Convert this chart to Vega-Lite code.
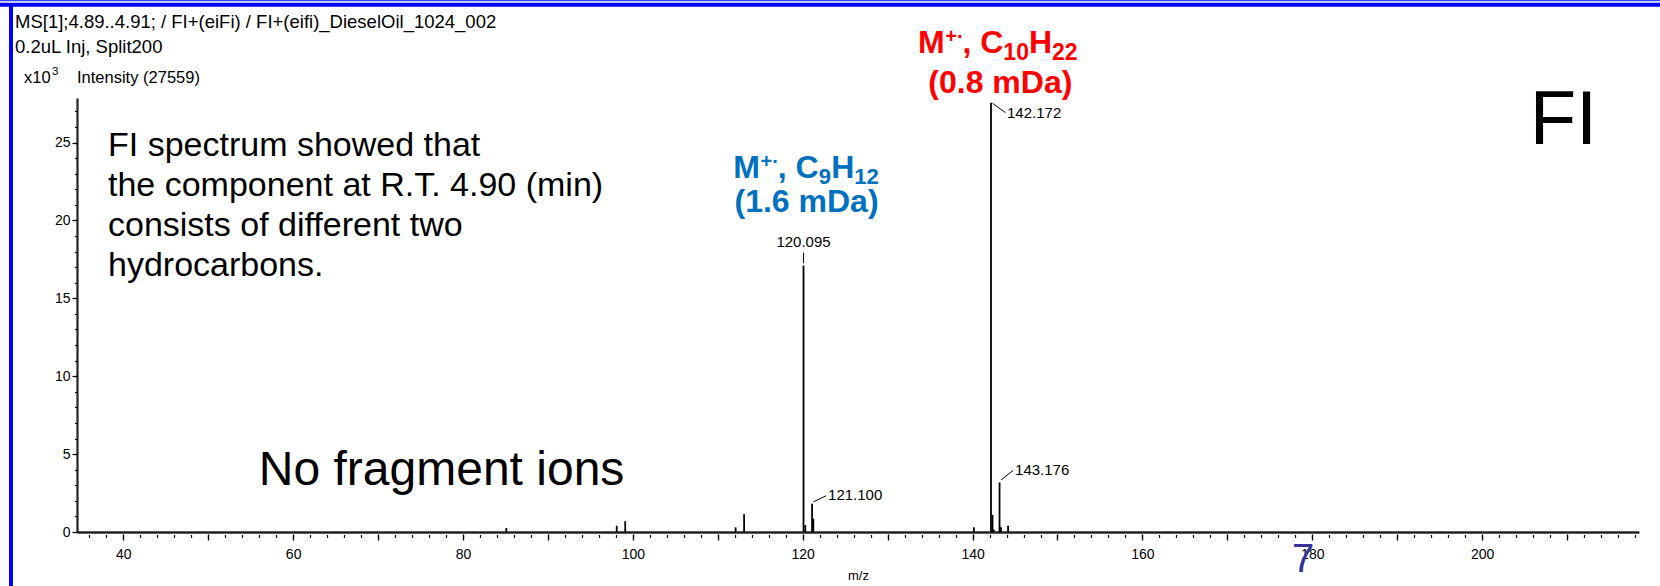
{
  "$schema": "https://vega.github.io/schema/vega-lite/v6.json",
  "width": 1562,
  "height": 434,
  "autosize": {"type": "none"},
  "padding": {"left": 77, "top": 98, "right": 21, "bottom": 54},
  "background": "#ffffff",
  "config": {"font": "Liberation Sans", "view": {"stroke": null}},
  "datasets": {
    "peaks": [
      {"mz": 85.1, "intensity": 0.25},
      {"mz": 98.1, "intensity": 0.4},
      {"mz": 99.1, "intensity": 0.7},
      {"mz": 112.1, "intensity": 0.3},
      {"mz": 113.1, "intensity": 1.15},
      {"mz": 120.095, "intensity": 17.1, "label": "120.095"},
      {"mz": 120.3, "intensity": 0.45},
      {"mz": 121.1, "intensity": 1.81, "label": "121.100"},
      {"mz": 121.25, "intensity": 0.85},
      {"mz": 140.16, "intensity": 0.3},
      {"mz": 142.172, "intensity": 27.559, "label": "142.172"},
      {"mz": 142.35, "intensity": 1.1},
      {"mz": 142.5, "intensity": 0.15},
      {"mz": 143.176, "intensity": 3.18, "label": "143.176"},
      {"mz": 143.35, "intensity": 0.3},
      {"mz": 144.18, "intensity": 0.4}
    ]
  },
  "resolve": {"axis": {"x": "independent", "y": "independent"}},
  "layer": [
    {
      "data": {"name": "peaks"},
      "mark": {"type": "rule", "color": "#000000", "strokeWidth": 1.8},
      "encoding": {
        "x": {"field": "mz", "type": "quantitative", "scale": {"domain": [34.55, 218.47], "nice": false, "zero": false},
          "axis": {"orient": "bottom", "values": [40, 60, 80, 100, 120, 140, 160, 180, 200], "ticks": false, "labels": false, "domain": true, "domainColor": "#222222", "domainWidth": 2.4, "grid": false, "title": null}},
        "y": {"field": "intensity", "type": "quantitative", "scale": {"domain": [0, 27.86], "nice": false, "zero": false},
          "axis": {"orient": "left", "values": [0, 5, 10, 15, 20, 25], "ticks": true, "tickSize": 5, "tickColor": "#000000", "tickWidth": 1.2, "domain": true, "domainColor": "#222222", "domainWidth": 2.2, "labels": true, "labelFont": "Liberation Sans", "labelFontSize": 14, "labelColor": "#000000", "labelPadding": 2, "grid": false, "title": null}},
        "y2": {"datum": 0}
      }
    },
    {
      "data": {"name": "peaks"},
      "mark": {"type": "rule", "opacity": 0},
      "encoding": {
        "x": {"field": "mz", "type": "quantitative", "scale": {"domain": [34.55, 218.47], "nice": false, "zero": false},
          "axis": {"orient": "bottom", "offset": 2, "values": [40, 50, 60, 70, 80, 90, 100, 110, 120, 130, 140, 150, 160, 170, 180, 190, 200, 210], "ticks": true, "tickSize": 6, "tickColor": "#000000", "tickWidth": 1.3, "domain": false, "labels": true, "labelExpr": "datum.value % 20 === 0 ? datum.label : ''", "labelFont": "Liberation Sans", "labelFontSize": 14, "labelColor": "#000000", "labelPadding": 7, "grid": false, "title": "m/z", "titleFont": "Liberation Sans", "titleFontSize": 13, "titleFontWeight": "normal", "titleColor": "#000000", "titleBaseline": "middle", "titleY": 41}},
        "y": {"field": "intensity", "type": "quantitative", "scale": {"domain": [0, 27.86], "nice": false, "zero": false},
          "axis": {"orient": "left", "values": [0, 1, 2, 3, 4, 5, 6, 7, 8, 9, 10, 11, 12, 13, 14, 15, 16, 17, 18, 19, 20, 21, 22, 23, 24, 25, 26, 27], "ticks": true, "tickSize": 2.5, "tickColor": "#000000", "tickWidth": 1.2, "domain": false, "labels": false, "grid": false, "title": null}}
      }
    },
    {
      "data": {"name": "peaks"},
      "mark": {"type": "rule", "opacity": 0},
      "encoding": {
        "x": {"field": "mz", "type": "quantitative", "scale": {"domain": [34.55, 218.47], "nice": false, "zero": false},
          "axis": {"orient": "bottom", "offset": 2.5, "values": [36,38,40,42,44,46,48,50,52,54,56,58,60,62,64,66,68,70,72,74,76,78,80,82,84,86,88,90,92,94,96,98,100,102,104,106,108,110,112,114,116,118,120,122,124,126,128,130,132,134,136,138,140,142,144,146,148,150,152,154,156,158,160,162,164,166,168,170,172,174,176,178,180,182,184,186,188,190,192,194,196,198,200,202,204,206,208,210,212,214,216,218], "ticks": true, "tickSize": 3, "tickColor": "#000000", "tickWidth": 1.2, "domain": false, "labels": false, "grid": false, "title": null}},
        "y": {"field": "intensity", "type": "quantitative", "scale": {"domain": [0, 27.86], "nice": false, "zero": false}, "axis": null}
      }
    },
    {
      "data": {"name": "peaks"},
      "transform": [{"filter": "datum.label === '120.095'"}],
      "mark": {"type": "rule", "color": "#000000", "strokeWidth": 1, "yOffset": -2.3, "y2Offset": -12.9},
      "encoding": {
        "x": {"field": "mz", "type": "quantitative", "scale": {"domain": [34.55, 218.47], "nice": false, "zero": false}, "axis": null},
        "x2": {"field": "mz"},
        "y": {"field": "intensity", "type": "quantitative", "scale": {"domain": [0, 27.86], "nice": false, "zero": false}, "axis": null},
        "y2": {"field": "intensity"}
      }
    },
    {
      "data": {"name": "peaks"},
      "transform": [{"filter": "datum.label === '142.172'"}],
      "mark": {"type": "rule", "color": "#000000", "strokeWidth": 1, "xOffset": 1.5, "x2Offset": 14.5, "yOffset": 0.6, "y2Offset": 10},
      "encoding": {
        "x": {"field": "mz", "type": "quantitative", "scale": {"domain": [34.55, 218.47], "nice": false, "zero": false}, "axis": null},
        "x2": {"field": "mz"},
        "y": {"field": "intensity", "type": "quantitative", "scale": {"domain": [0, 27.86], "nice": false, "zero": false}, "axis": null},
        "y2": {"field": "intensity"}
      }
    },
    {
      "data": {"name": "peaks"},
      "transform": [{"filter": "datum.label === '121.100'"}],
      "mark": {"type": "rule", "color": "#000000", "strokeWidth": 1, "xOffset": 1.5, "x2Offset": 14, "yOffset": -2, "y2Offset": -8},
      "encoding": {
        "x": {"field": "mz", "type": "quantitative", "scale": {"domain": [34.55, 218.47], "nice": false, "zero": false}, "axis": null},
        "x2": {"field": "mz"},
        "y": {"field": "intensity", "type": "quantitative", "scale": {"domain": [0, 27.86], "nice": false, "zero": false}, "axis": null},
        "y2": {"field": "intensity"}
      }
    },
    {
      "data": {"name": "peaks"},
      "transform": [{"filter": "datum.label === '143.176'"}],
      "mark": {"type": "rule", "color": "#000000", "strokeWidth": 1, "xOffset": 1.5, "x2Offset": 13.5, "yOffset": -2.5, "y2Offset": -12},
      "encoding": {
        "x": {"field": "mz", "type": "quantitative", "scale": {"domain": [34.55, 218.47], "nice": false, "zero": false}, "axis": null},
        "x2": {"field": "mz"},
        "y": {"field": "intensity", "type": "quantitative", "scale": {"domain": [0, 27.86], "nice": false, "zero": false}, "axis": null},
        "y2": {"field": "intensity"}
      }
    },
    {
      "data": {"name": "peaks"},
      "transform": [{"filter": "datum.label === '120.095'"}],
      "mark": {"type": "text", "font": "Liberation Sans", "fontSize": 15, "color": "#000000", "align": "center", "baseline": "alphabetic", "dy": -18.9},
      "encoding": {
        "x": {"field": "mz", "type": "quantitative", "scale": {"domain": [34.55, 218.47], "nice": false, "zero": false}, "axis": null},
        "y": {"field": "intensity", "type": "quantitative", "scale": {"domain": [0, 27.86], "nice": false, "zero": false}, "axis": null},
        "text": {"field": "label"}
      }
    },
    {
      "data": {"name": "peaks"},
      "transform": [{"filter": "datum.label === '142.172'"}],
      "mark": {"type": "text", "font": "Liberation Sans", "fontSize": 15, "color": "#000000", "align": "left", "baseline": "middle", "dx": 16, "dy": 10.5},
      "encoding": {
        "x": {"field": "mz", "type": "quantitative", "scale": {"domain": [34.55, 218.47], "nice": false, "zero": false}, "axis": null},
        "y": {"field": "intensity", "type": "quantitative", "scale": {"domain": [0, 27.86], "nice": false, "zero": false}, "axis": null},
        "text": {"field": "label"}
      }
    },
    {
      "data": {"name": "peaks"},
      "transform": [{"filter": "datum.label === '121.100'"}],
      "mark": {"type": "text", "font": "Liberation Sans", "fontSize": 15, "color": "#000000", "align": "left", "baseline": "middle", "dx": 16, "dy": -9},
      "encoding": {
        "x": {"field": "mz", "type": "quantitative", "scale": {"domain": [34.55, 218.47], "nice": false, "zero": false}, "axis": null},
        "y": {"field": "intensity", "type": "quantitative", "scale": {"domain": [0, 27.86], "nice": false, "zero": false}, "axis": null},
        "text": {"field": "label"}
      }
    },
    {
      "data": {"name": "peaks"},
      "transform": [{"filter": "datum.label === '143.176'"}],
      "mark": {"type": "text", "font": "Liberation Sans", "fontSize": 15, "color": "#000000", "align": "left", "baseline": "middle", "dx": 15.5, "dy": -12},
      "encoding": {
        "x": {"field": "mz", "type": "quantitative", "scale": {"domain": [34.55, 218.47], "nice": false, "zero": false}, "axis": null},
        "y": {"field": "intensity", "type": "quantitative", "scale": {"domain": [0, 27.86], "nice": false, "zero": false}, "axis": null},
        "text": {"field": "label"}
      }
    },
    {
      "data": {"values": [{"t": ["MS[1];4.89..4.91; / FI+(eiFi) / FI+(eifi)_DieselOil_1024_002", "0.2uL Inj, Split200"]}]},
      "mark": {"type": "text", "font": "Liberation Sans", "fontSize": 18.5, "color": "#000000", "align": "left", "baseline": "alphabetic", "lineHeight": 25.4},
      "encoding": {
        "x": {"datum": 27.25, "type": "quantitative", "scale": {"domain": [34.55, 218.47], "nice": false, "zero": false}, "axis": null},
        "y": {"datum": 32.38, "type": "quantitative", "scale": {"domain": [0, 27.86], "nice": false, "zero": false}, "axis": null},
        "text": {"field": "t"}
      }
    },
    {
      "data": {"values": [{"t": "Intensity (27559)"}]},
      "encoding": {
        "x": {"datum": 28.31, "type": "quantitative", "scale": {"domain": [34.55, 218.47], "nice": false, "zero": false}, "axis": null},
        "y": {"datum": 28.82, "type": "quantitative", "scale": {"domain": [0, 27.86], "nice": false, "zero": false}, "axis": null}
      },
      "layer": [
        {"mark": {"type": "text", "text": "x10", "font": "Liberation Sans", "fontSize": 16.5, "color": "#000000", "align": "left", "baseline": "alphabetic"}},
        {"mark": {"type": "text", "text": "3", "font": "Liberation Sans", "fontSize": 11.5, "color": "#000000", "align": "left", "baseline": "alphabetic", "dx": 28, "dy": -8}},
        {"mark": {"type": "text", "font": "Liberation Sans", "fontSize": 16.5, "color": "#000000", "align": "left", "baseline": "alphabetic", "dx": 53}, "encoding": {"text": {"field": "t"}}}
      ]
    },
    {
      "data": {"values": [{"t": ["FI spectrum showed that", "the component at R.T. 4.90 (min)", "consists of different two", "hydrocarbons."]}]},
      "mark": {"type": "text", "font": "Liberation Sans", "fontSize": 34, "color": "#000000", "align": "left", "baseline": "alphabetic", "lineHeight": 40},
      "encoding": {
        "x": {"datum": 38.2, "type": "quantitative", "scale": {"domain": [34.55, 218.47], "nice": false, "zero": false}, "axis": null},
        "y": {"datum": 24.14, "type": "quantitative", "scale": {"domain": [0, 27.86], "nice": false, "zero": false}, "axis": null},
        "text": {"field": "t"}
      }
    },
    {
      "data": {"values": [{"t": "No fragment ions"}]},
      "mark": {"type": "text", "font": "Liberation Sans", "fontSize": 48, "color": "#000000", "align": "left", "baseline": "alphabetic"},
      "encoding": {
        "x": {"datum": 55.96, "type": "quantitative", "scale": {"domain": [34.55, 218.47], "nice": false, "zero": false}, "axis": null},
        "y": {"datum": 3.02, "type": "quantitative", "scale": {"domain": [0, 27.86], "nice": false, "zero": false}, "axis": null},
        "text": {"field": "t"}
      }
    },
    {
      "data": {"values": [{"t": "FI"}]},
      "mark": {"type": "text", "font": "Liberation Sans", "fontSize": 76, "color": "#000000", "align": "left", "baseline": "alphabetic"},
      "encoding": {
        "x": {"datum": 205.6, "type": "quantitative", "scale": {"domain": [34.55, 218.47], "nice": false, "zero": false}, "axis": null},
        "y": {"datum": 24.9, "type": "quantitative", "scale": {"domain": [0, 27.86], "nice": false, "zero": false}, "axis": null},
        "text": {"field": "t"}
      }
    },
    {
      "data": {"values": [{"ion": "C10H22"}]},
      "encoding": {
        "x": {"datum": 133.58, "type": "quantitative", "scale": {"domain": [34.55, 218.47], "nice": false, "zero": false}, "axis": null},
        "y": {"datum": 30.75, "type": "quantitative", "scale": {"domain": [0, 27.86], "nice": false, "zero": false}, "axis": null}
      },
      "layer": [
        {"mark": {"type": "text", "text": "M", "font": "Liberation Sans", "fontSize": 32, "fontWeight": "bold", "color": "#ff0000", "align": "left", "baseline": "alphabetic"}},
        {"mark": {"type": "text", "text": "+·", "font": "Liberation Sans", "fontSize": 20, "fontWeight": "bold", "color": "#ff0000", "align": "left", "baseline": "alphabetic", "dx": 27.2, "dy": -10}},
        {"mark": {"type": "text", "text": ", C", "font": "Liberation Sans", "fontSize": 32, "fontWeight": "bold", "color": "#ff0000", "align": "left", "baseline": "alphabetic", "dx": 44.4}},
        {"mark": {"type": "text", "text": "10", "font": "Liberation Sans", "fontSize": 23, "fontWeight": "bold", "color": "#ff0000", "align": "left", "baseline": "alphabetic", "dx": 85.3, "dy": 7}},
        {"mark": {"type": "text", "text": "H", "font": "Liberation Sans", "fontSize": 32, "fontWeight": "bold", "color": "#ff0000", "align": "left", "baseline": "alphabetic", "dx": 110.9}},
        {"mark": {"type": "text", "text": "22", "font": "Liberation Sans", "fontSize": 23, "fontWeight": "bold", "color": "#ff0000", "align": "left", "baseline": "alphabetic", "dx": 134, "dy": 7}}
      ]
    },
    {
      "data": {"values": [{"t": "(0.8 mDa)"}]},
      "mark": {"type": "text", "font": "Liberation Sans", "fontSize": 32, "fontWeight": "bold", "color": "#ff0000", "align": "center", "baseline": "alphabetic"},
      "encoding": {
        "x": {"datum": 143.27, "type": "quantitative", "scale": {"domain": [34.55, 218.47], "nice": false, "zero": false}, "axis": null},
        "y": {"datum": 28.17, "type": "quantitative", "scale": {"domain": [0, 27.86], "nice": false, "zero": false}, "axis": null},
        "text": {"field": "t"}
      }
    },
    {
      "data": {"values": [{"ion": "C9H12"}]},
      "encoding": {
        "x": {"datum": 111.83, "type": "quantitative", "scale": {"domain": [34.55, 218.47], "nice": false, "zero": false}, "axis": null},
        "y": {"datum": 22.7, "type": "quantitative", "scale": {"domain": [0, 27.86], "nice": false, "zero": false}, "axis": null}
      },
      "layer": [
        {"mark": {"type": "text", "text": "M", "font": "Liberation Sans", "fontSize": 32, "fontWeight": "bold", "color": "#0070c0", "align": "left", "baseline": "alphabetic"}},
        {"mark": {"type": "text", "text": "+·", "font": "Liberation Sans", "fontSize": 20, "fontWeight": "bold", "color": "#0070c0", "align": "left", "baseline": "alphabetic", "dx": 27.2, "dy": -10}},
        {"mark": {"type": "text", "text": ", C", "font": "Liberation Sans", "fontSize": 32, "fontWeight": "bold", "color": "#0070c0", "align": "left", "baseline": "alphabetic", "dx": 44.4}},
        {"mark": {"type": "text", "text": "9", "font": "Liberation Sans", "fontSize": 22, "fontWeight": "bold", "color": "#0070c0", "align": "left", "baseline": "alphabetic", "dx": 85.3, "dy": 6}},
        {"mark": {"type": "text", "text": "H", "font": "Liberation Sans", "fontSize": 32, "fontWeight": "bold", "color": "#0070c0", "align": "left", "baseline": "alphabetic", "dx": 97.8}},
        {"mark": {"type": "text", "text": "12", "font": "Liberation Sans", "fontSize": 22, "fontWeight": "bold", "color": "#0070c0", "align": "left", "baseline": "alphabetic", "dx": 120.9, "dy": 6}}
      ]
    },
    {
      "data": {"values": [{"t": "(1.6 mDa)"}]},
      "mark": {"type": "text", "font": "Liberation Sans", "fontSize": 32, "fontWeight": "bold", "color": "#0070c0", "align": "center", "baseline": "alphabetic"},
      "encoding": {
        "x": {"datum": 120.45, "type": "quantitative", "scale": {"domain": [34.55, 218.47], "nice": false, "zero": false}, "axis": null},
        "y": {"datum": 20.56, "type": "quantitative", "scale": {"domain": [0, 27.86], "nice": false, "zero": false}, "axis": null},
        "text": {"field": "t"}
      }
    },
    {
      "data": {"values": [{"t": "7"}]},
      "mark": {"type": "text", "font": "Liberation Sans", "fontSize": 40, "color": "#333399", "align": "center", "baseline": "alphabetic"},
      "encoding": {
        "x": {"datum": 178.91, "type": "quantitative", "scale": {"domain": [34.55, 218.47], "nice": false, "zero": false}, "axis": null},
        "y": {"datum": -2.57, "type": "quantitative", "scale": {"domain": [0, 27.86], "nice": false, "zero": false}, "axis": null},
        "text": {"field": "t"}
      }
    },
    {
      "data": {"values": [{"frame": "top-thin"}]},
      "mark": {"type": "rule", "color": "#3344ff", "strokeWidth": 1.4},
      "encoding": {
        "x": {"datum": 25.48, "type": "quantitative", "scale": {"domain": [34.55, 218.47], "nice": false, "zero": false}, "axis": null},
        "x2": {"datum": 220.95},
        "y": {"datum": 34.11, "type": "quantitative", "scale": {"domain": [0, 27.86], "nice": false, "zero": false}, "axis": null}
      }
    },
    {
      "data": {"values": [{"frame": "top-thick"}]},
      "mark": {"type": "rule", "color": "#0000ff", "strokeWidth": 4},
      "encoding": {
        "x": {"datum": 25.48, "type": "quantitative", "scale": {"domain": [34.55, 218.47], "nice": false, "zero": false}, "axis": null},
        "x2": {"datum": 220.95},
        "y": {"datum": 33.85, "type": "quantitative", "scale": {"domain": [0, 27.86], "nice": false, "zero": false}, "axis": null}
      }
    },
    {
      "data": {"values": [{"frame": "left"}]},
      "mark": {"type": "rule", "color": "#0000ff", "strokeWidth": 4},
      "encoding": {
        "x": {"datum": 26.78, "type": "quantitative", "scale": {"domain": [34.55, 218.47], "nice": false, "zero": false}, "axis": null},
        "y": {"datum": 33.9, "type": "quantitative", "scale": {"domain": [0, 27.86], "nice": false, "zero": false}, "axis": null},
        "y2": {"datum": -3.5}
      }
    }
  ]
}
